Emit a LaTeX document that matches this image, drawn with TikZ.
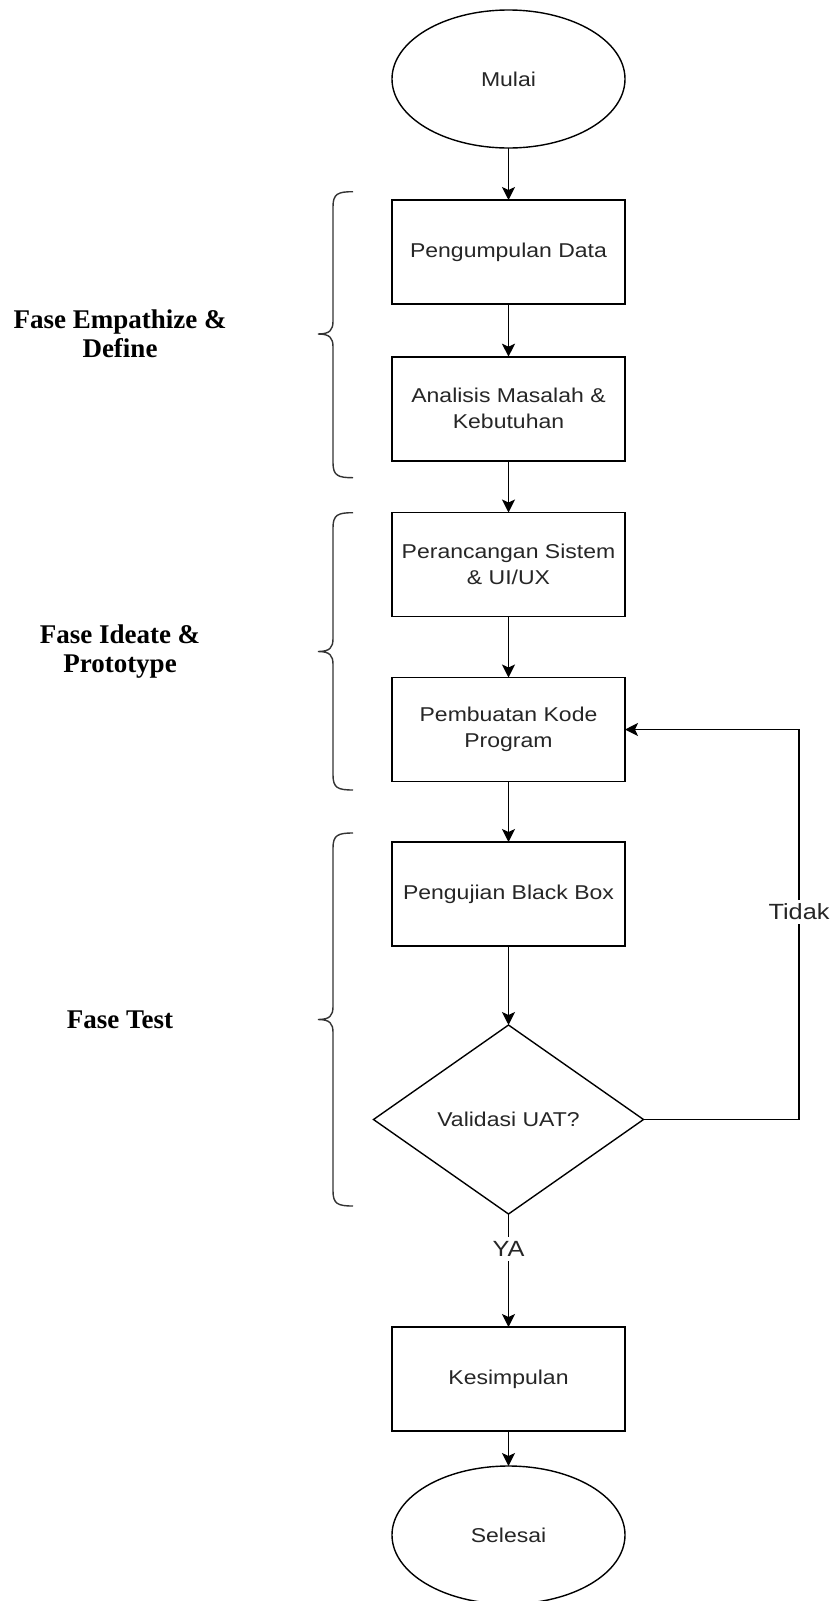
\documentclass[tikz,border=0pt]{standalone}
\usepackage{fontspec}
\setmainfont{Liberation Sans}
\newfontfamily\boxfont[FakeStretch=1.15]{Liberation Sans}
\newfontfamily\labfont{Liberation Serif}
\usetikzlibrary{shapes.geometric,arrows.meta}
\newcommand\phasebrace[3]{%
  \draw[bracestyle] (353,#1) .. controls (338,#1) and (333,#1+2) .. (333,#1+15)
    -- (333,#2-13) .. controls (333,#2-4) and (330,#2) .. (318,#2)
    .. controls (330,#2) and (333,#2+4) .. (333,#2+13)
    -- (333,#3-15) .. controls (333,#3-2) and (338,#3) .. (353,#3);}
\begin{document}
\begin{tikzpicture}[x=1pt,y=-1pt,
  every node/.style={inner sep=0pt,outer sep=0pt},
  box/.style={draw, line width=1.6pt, minimum width=233pt, minimum height=104pt,
    align=center, font=\boxfont\fontsize{20}{26}\selectfont, text=black!85},
  term/.style={ellipse, draw, line width=1.4pt, minimum width=233pt, minimum height=138pt,
    align=center, font=\boxfont\fontsize{20}{26}\selectfont, text=black!85},
  decision/.style={diamond, draw, line width=1.4pt, aspect=1.43, minimum width=270pt,
    minimum height=189pt, align=center, font=\boxfont\fontsize{20}{26}\selectfont, text=black!85},
  arr/.style={line width=1.6pt, -{Stealth[length=13pt,width=13pt,inset=3pt]}},
  lab/.style={font=\labfont\bfseries\fontsize{27}{29}\selectfont, align=center},
  edgelab/.style={fill=white, font=\boxfont\fontsize{22}{26}\selectfont, inner xsep=2pt, inner ysep=4pt, text=black!85},
  bracestyle/.style={line width=1.4pt, black!80}
]
\useasboundingbox (0,0) rectangle (837,1601);

\node[term] (start) at (508.5,79) {Mulai};
\node[box] (b1) at (508.5,252) {Pengumpulan Data};
\node[box] (b2) at (508.5,408.7) {Analisis Masalah \&\\Kebutuhan};
\node[box] (b3) at (508.5,564.5) {Perancangan Sistem\\\& UI/UX};
\node[box] (b4) at (508.5,729.5) {Pembuatan Kode\\Program};
\node[box] (b5) at (508.5,894) {Pengujian Black Box};
\node[decision] (dec) at (508.5,1119.5) {Validasi UAT?};
\node[box] (kes) at (508.5,1379) {Kesimpulan};
\node[term] (end) at (508.5,1535) {Selesai};

\draw[arr] (start) -- (b1);
\draw[arr] (b1) -- (b2);
\draw[arr] (b2) -- (b3);
\draw[arr] (b3) -- (b4);
\draw[arr] (b4) -- (b5);
\draw[arr] (b5) -- (dec);
\draw[arr] (dec) -- node[edgelab, pos=0.31] {YA} (kes);
\draw[arr] (kes) -- (end);

\coordinate (loop) at (799,729.5);
\draw[arr] (dec.east) -| (loop) -- (b4.east);
\node[edgelab] (tidak) at (799,912) {Tidak};

\phasebrace{191.7}{334}{477.7}
\phasebrace{512.7}{651.5}{790}
\phasebrace{833}{1019.5}{1206}

\node[lab] (l1) at (120,334) {Fase Empathize \&\\Define};
\node[lab] (l2) at (120,651.5) {Fase Ideate \&\\Prototype};
\node[lab] (l3) at (120,1019.5) {Fase Test};
\end{tikzpicture}
\end{document}
